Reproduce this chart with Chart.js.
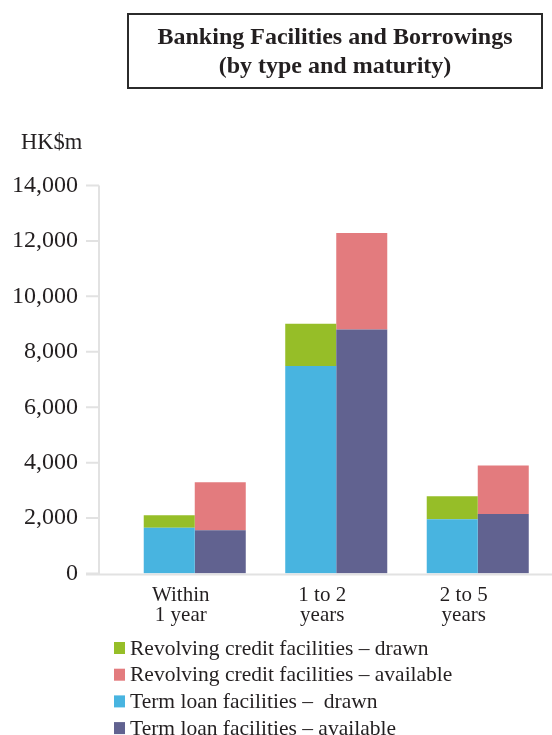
<!DOCTYPE html>
<html>
<head>
<meta charset="utf-8">
<script src="https://cdn.jsdelivr.net/npm/chart.js@4/dist/chart.umd.min.js"></script>
<style>
  html, body { margin: 0; padding: 0; background: #fff; }
  #wrap { position: relative; width: 552px; height: 735px; overflow: hidden; }
  #chart { position: absolute; left: 0; top: 0; }
  .title-box {
    position: absolute; left: 127px; top: 13px; width: 416px; height: 76px;
    box-sizing: border-box; border: 2px solid #2b2b2b;
    font-family: "Liberation Serif", "DejaVu Serif", serif; font-weight: bold;
    font-size: 24px; line-height: 29px; color: #231f20; text-align: center;
    padding-top: 7px;
  }
  .unit {
    position: absolute; left: 21px; top: 129px;
    font-family: "Liberation Serif", "DejaVu Serif", serif; font-size: 22.5px; color: #231f20;
  }
</style>
</head>
<body>
<div id="wrap">
  <canvas id="chart" width="552" height="735"></canvas>
  <div class="title-box">Banking Facilities and Borrowings<br>(by type and maturity)</div>
  <div class="unit">HK$m</div>
</div>
<script>
// Maturity buckets
const categories = [['Within', '1 year'], ['1 to 2', 'years'], ['2 to 5', 'years']];

// HK$ million
const termLoanDrawn = [1650, 7490, 1960];
const termLoanAvailable = [1560, 8800, 2150];
const revolvingDrawn = [450, 1520, 830];
const revolvingAvailable = [1730, 3490, 1750];

const yTicks = [0, 2000, 4000, 6000, 8000, 10000, 12000, 14000];

const legendOrder = [
  'Revolving credit facilities – drawn',
  'Revolving credit facilities – available',
  'Term loan facilities –  drawn',
  'Term loan facilities – available'
];

const SERIF = '"Liberation Serif", "DejaVu Serif", serif';
const INK = '#231f20';
const AXIS = '#e2e2e2';

// Axis line and outer tick marks, drawn a little left of the plot area
const axisFrame = {
  id: 'axisFrame',
  afterDraw(chart) {
    const { ctx, chartArea, scales } = chart;
    const y = scales.y;
    const axisX = chartArea.left - 25;
    const tickX = axisX - 13;
    ctx.save();
    ctx.strokeStyle = AXIS;
    ctx.lineWidth = 2;
    ctx.beginPath();
    ctx.moveTo(axisX, y.getPixelForValue(yTicks[yTicks.length - 1]));
    ctx.lineTo(axisX, y.getPixelForValue(0) + 1);
    yTicks.forEach(v => {
      const py = y.getPixelForValue(v);
      ctx.moveTo(tickX, py);
      ctx.lineTo(axisX, py);
    });
    const baseY = y.getPixelForValue(0) + 1;
    ctx.moveTo(tickX, baseY);
    ctx.lineTo(chart.width, baseY);
    ctx.stroke();
    ctx.restore();
  }
};

// Stacked legend list under the chart
const listLegend = {
  id: 'listLegend',
  afterDraw(chart) {
    const { ctx } = chart;
    const x0 = 114, y0 = 648, step = 26.7;
    ctx.save();
    ctx.font = '21.5px ' + SERIF;
    ctx.textBaseline = 'middle';
    legendOrder.forEach((name, i) => {
      const ds = chart.data.datasets.find(d => d.label === name);
      const cy = y0 + i * step;
      ctx.fillStyle = ds.backgroundColor;
      ctx.fillRect(x0, cy - 6, 11, 12);
      ctx.fillStyle = INK;
      ctx.fillText(name, x0 + 16, cy + 1);
    });
    ctx.restore();
  }
};

new Chart(document.getElementById('chart'), {
  type: 'bar',
  data: {
    labels: categories,
    datasets: [
      { label: legendOrder[2], data: termLoanDrawn, backgroundColor: '#48b4e0', stack: 'drawn' },
      { label: legendOrder[3], data: termLoanAvailable, backgroundColor: '#616290', stack: 'available' },
      { label: legendOrder[0], data: revolvingDrawn, backgroundColor: '#96be28', stack: 'drawn' },
      { label: legendOrder[1], data: revolvingAvailable, backgroundColor: '#e37b7e', stack: 'available' }
    ]
  },
  options: {
    responsive: false,
    animation: false,
    devicePixelRatio: 1,
    layout: { padding: { top: 185.5, left: 0, right: 3.5, bottom: 0 } },
    datasets: { bar: { barPercentage: 1.0, categoryPercentage: 0.721, borderWidth: 0 } },
    plugins: {
      legend: { display: false },
      title: { display: false },
      tooltip: { enabled: false }
    },
    scales: {
      x: {
        stacked: true,
        grid: { display: false, drawTicks: false },
        border: { display: false },
        afterFit(scale) { scale.height = 735 - 573.5; },
        ticks: {
          color: INK,
          font: { family: SERIF, size: 21, lineHeight: 0.95 },
          padding: 12,
          labelOffset: -14,
          maxRotation: 0,
          autoSkip: false
        }
      },
      y: {
        stacked: true,
        min: 0,
        max: 14000,
        grid: { display: false, drawTicks: false },
        border: { display: false },
        afterFit(scale) { scale.width = 124; },
        afterBuildTicks(scale) { scale.ticks = yTicks.map(v => ({ value: v })); },
        ticks: {
          color: INK,
          font: { family: SERIF, size: 24 },
          padding: 46,
          callback: v => Number(v).toLocaleString('en-US')
        }
      }
    }
  },
  plugins: [axisFrame, listLegend]
});
</script>
</body>
</html>
